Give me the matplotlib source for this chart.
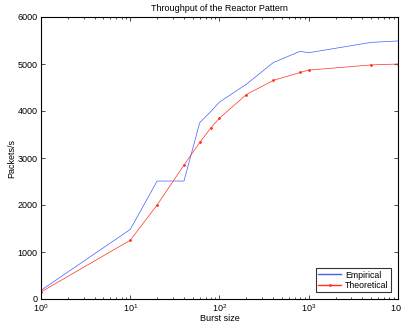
import matplotlib
matplotlib.use('Agg')
import matplotlib.pyplot as plt

burst = [1, 10, 20, 40, 60, 80, 100, 200, 400, 800, 1000, 5000, 10000]
empirical = [185, 1480, 2510, 2510, 3750, 3990, 4190, 4570, 5030, 5270, 5240, 5460, 5490]
theoretical = [150, 1250, 2000, 2850, 3330, 3640, 3850, 4350, 4650, 4820, 4870, 4980, 5000]

plt.rcParams['font.family'] = ['Liberation Sans', 'DejaVu Sans']
plt.rcParams['font.size'] = 6.5

fig = plt.figure(figsize=(4.01, 3.24), dpi=100)
ax = fig.add_axes([41 / 401, 25 / 324, 357 / 401, 282 / 324])

ax.plot(burst, empirical, color='#4060ff', lw=0.5, label='Empirical')
ax.plot(burst, theoretical, color='#ff3020', lw=0.5, marker='.', markersize=2, label='Theoretical')

ax.set_xscale('log')
ax.set_xlim(1, 10000)
ax.set_ylim(0, 6000)
ax.set_yticks(range(0, 6001, 1000))
ax.tick_params(which='both', direction='in', top=True, right=True, labelsize=6.5, pad=2.5)
ax.tick_params(which='major', length=3, width=0.5)
ax.tick_params(which='minor', length=1.5, width=0.5)
for s in ax.spines.values():
    s.set_linewidth(0.8)

ax.set_title('Throughput of the Reactor Pattern', fontsize=6.5, pad=4)
ax.set_xlabel('Burst size', fontsize=6.5, labelpad=0)
ax.set_ylabel('Packets/s', fontsize=6.5, labelpad=1)

leg = ax.legend(loc='lower right', fancybox=False, edgecolor='black', fontsize=6.3,
                handlelength=2.6, handletextpad=0.5, numpoints=1,
                borderpad=0.25, labelspacing=0.15, borderaxespad=0.8)
leg.get_frame().set_linewidth(0.8)
for line in leg.get_lines():
    line.set_linewidth(1.0)

fig.savefig('out.png', dpi=100)
